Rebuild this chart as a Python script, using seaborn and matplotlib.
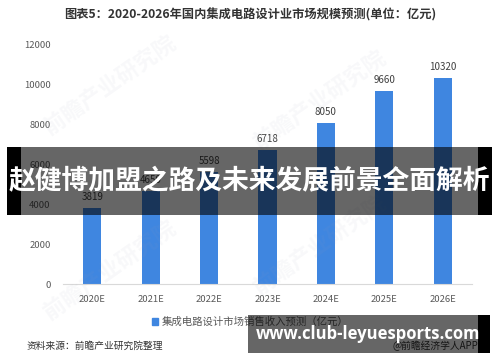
import matplotlib
matplotlib.use("Agg")
import matplotlib.pyplot as plt
import seaborn as sns
import pandas as pd
from matplotlib.patches import Rectangle, Patch

# ---- data ----
years = ["2020E", "2021E", "2022E", "2023E", "2024E", "2025E", "2026E"]
revenue = [3819, 4650, 5598, 6718, 8050, 9660, 10320]
value_labels = ["3819", "4650", "5598", "6718", "8050", "9660", "10320"]
y_ticks = [0, 2000, 4000, 6000, 8000, 10000, 12000]
title = "图表5：2020-2026年国内集成电路设计业市场规模预测(单位：亿元)"
legend_label = "集成电路设计市场销售收入预测（亿元）"
source = "资料来源：前瞻产业研究院整理"
credit = "@前瞻经济学人APP"
banner = "赵健博加盟之路及未来发展前景全面解析"
site = "www.club-leyuesports.com"
watermark = "前瞻产业研究院"

sns.set_style("white")
plt.rcParams['font.family'] = ['Noto Sans CJK SC', 'DejaVu Sans']

W, H = 500, 362
fig = plt.figure(figsize=(W / 100, H / 100), dpi=100)
fig.patch.set_facecolor("white")


def fx(x):
    return x / W


def fy(y):
    return 1 - y / H


ax = fig.add_axes([fx(63), fy(284), fx(472) - fx(63), fy(44) - fy(284)])
df = pd.DataFrame({"year": years, "revenue": revenue})
bar_color = "#3f86e0"
sns.barplot(data=df, x="year", y="revenue", color=bar_color, saturation=1,
            width=0.31, ax=ax, linewidth=0)
ax.bar_label(ax.containers[0], labels=value_labels, padding=4, fontsize=7,
             color="#404040")

ax.set_xlim(-0.5, 6.5)
ax.set_ylim(0, 12000)
ax.set_yticks(y_ticks)
ax.set_yticklabels([str(v) for v in y_ticks])
ax.set_xlabel("")
ax.set_ylabel("")
for s in ["top", "right", "left"]:
    ax.spines[s].set_visible(False)
ax.spines["bottom"].set_color("#d9d9d9")
ax.spines["bottom"].set_linewidth(0.8)
ax.tick_params(axis="y", length=0, pad=9, labelsize=6.8, labelcolor="#595959")
ax.tick_params(axis="x", length=0, pad=8, labelsize=6.8, labelcolor="#595959")
ax.grid(False)

# faint watermarks
for (cx, cy) in [(110, 85), (320, 100), (110, 270), (320, 245)]:
    fig.text(fx(cx), fy(cy), watermark, rotation=35, fontsize=16, color="#9aa4b5",
             alpha=0.07, ha="center", va="center", fontweight="bold", zorder=1)

# title
fig.text(0.5, fy(15), title, ha="center", va="center", fontsize=8.8,
         fontweight="bold", color="#333333")

# legend
ax.legend(handles=[Patch(color=bar_color, label=legend_label)], loc="center",
          bbox_to_anchor=(fx(250), fy(322)), bbox_transform=fig.transFigure,
          frameon=False, handlelength=0.6, handleheight=0.6, handletextpad=0.3,
          fontsize=7.5, labelcolor="#595959", borderpad=0)

# source + credit
fig.text(fx(27), fy(346), source, ha="left", va="center", fontsize=7, color="#333333")
fig.text(fx(478), fy(346), credit, ha="right", va="center", fontsize=7, color="#333333")

# overlay banner
fig.add_artist(Rectangle((fx(7), fy(215)), fx(14), fy(147) - fy(215),
                         transform=fig.transFigure, color="black", zorder=10, lw=0))
fig.add_artist(Rectangle((fx(478), fy(215)), fx(14), fy(147) - fy(215),
                         transform=fig.transFigure, color="black", zorder=10, lw=0))
fig.add_artist(Rectangle((fx(21), fy(215)), fx(457), fy(147) - fy(215),
                         transform=fig.transFigure, color="black", alpha=0.6,
                         zorder=10, lw=0))
fig.text(fx(249.5), fy(181), banner, ha="center", va="center", fontsize=19.3,
         fontweight="bold", color="white", zorder=11)

# bottom banner
fig.add_artist(Rectangle((fx(248), fy(353)), fx(230), fy(315) - fy(353),
                         transform=fig.transFigure, color="black", alpha=0.6,
                         zorder=10, lw=0))
fig.add_artist(Rectangle((fx(478), fy(353)), fx(12), fy(315) - fy(353),
                         transform=fig.transFigure, color="black", zorder=10, lw=0))
fig.text(fx(368), fy(334), site, ha="center", va="center", fontsize=12,
         fontweight="bold", color="white", family="Open Sans", zorder=11)

fig.savefig("out.png", dpi=100)
